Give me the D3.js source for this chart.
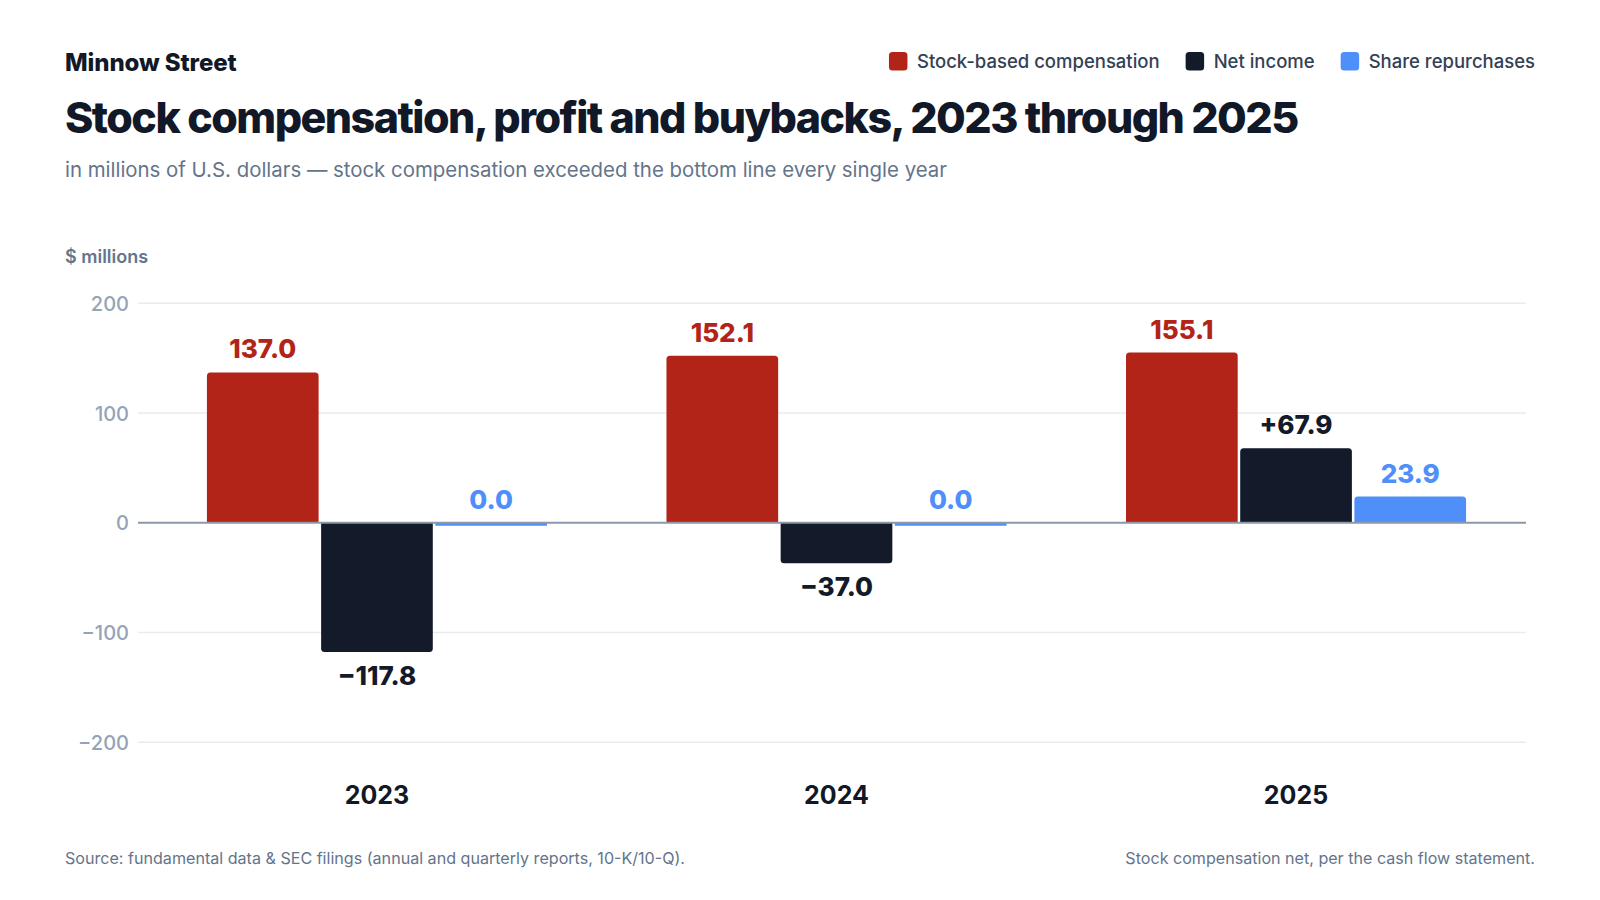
<!DOCTYPE html>
<html>
<head>
<meta charset="utf-8">
<script src="https://cdn.jsdelivr.net/npm/d3@7/dist/d3.min.js"></script>
<style>
  html, body { margin: 0; padding: 0; background: #ffffff; }
  svg { display: block; font-family: Inter, "Noto Sans", sans-serif; }
</style>
</head>
<body>
<svg id="chart" width="1600" height="900"></svg>
<script>
const years = ["2023", "2024", "2025"];
const seriesNames = ["Stock-based compensation", "Net income", "Share repurchases"];
const seriesColors = ["#b22318", "#131a2a", "#4f8ffa"];
const labelColors = ["#b22318", "#131a2a", "#4f8ffa"];
const stockComp = [137.0, 152.1, 155.1];
const netIncome = [-117.8, -37.0, 67.9];
const repurchases = [0.0, 0.0, 23.9];
const yTicks = [-200, -100, 0, 100, 200];

const seriesValues = [stockComp, netIncome, repurchases];
const data = years.map((yr, i) => ({
  year: yr,
  values: seriesNames.map((s, j) => ({ key: s, idx: j, value: seriesValues[j][i] }))
}));

const svg = d3.select("#chart");
const left = 138, right = 1535, gridRight = 1526;

const x0 = d3.scaleBand().domain(years).range([left, right]).paddingInner(0.26).paddingOuter(0.15);
const x1 = d3.scaleBand().domain(seriesNames).range([0, x0.bandwidth()]).paddingInner(0.022).paddingOuter(0);
const y = d3.scaleLinear().domain([-200, 200]).range([742.2, 303.3]);

// Header
svg.append("text").attr("x", 65).attr("y", 71).text("Minnow Street")
  .attr("font-size", 24).attr("font-weight", 800).attr("fill", "#111827").attr("letter-spacing", -0.1);
svg.append("text").attr("x", 65).attr("y", 133).text("Stock compensation, profit and buybacks, 2023 through 2025")
  .attr("font-size", 43).attr("font-weight", 800).attr("fill", "#111827").attr("letter-spacing", -1.55);
svg.append("text").attr("x", 65).attr("y", 176.5).text("in millions of U.S. dollars \u2014 stock compensation exceeded the bottom line every single year")
  .attr("font-size", 20.4).attr("font-weight", 400).attr("fill", "#64748b");

// Legend (right aligned)
const legend = svg.append("g");
let lx = right;
const items = seriesNames.map((s, i) => ({ s, i }));
const legendGroups = items.map(d => {
  const g = legend.append("g");
  g.append("rect").attr("x", 0).attr("y", 52).attr("width", 18.5).attr("height", 18.5).attr("rx", 3.5).attr("fill", seriesColors[d.i]);
  const t = g.append("text").attr("x", 28).attr("y", 67.5).text(d.s)
    .attr("font-size", 18.5).attr("font-weight", 500).attr("fill", "#334155");
  return { g, w: 28 + t.node().getComputedTextLength() };
});
for (let k = legendGroups.length - 1; k >= 0; k--) {
  lx -= legendGroups[k].w;
  legendGroups[k].g.attr("transform", `translate(${lx},0)`);
  lx -= 26;
}

// Y axis label
svg.append("text").attr("x", 65).attr("y", 263).text("$ millions")
  .attr("font-size", 18).attr("font-weight", 600).attr("fill", "#64748b");

// Gridlines
const grid = svg.append("g");
grid.selectAll("line").data(yTicks.filter(t => t !== 0)).join("line")
  .attr("x1", left).attr("x2", gridRight)
  .attr("y1", d => y(d)).attr("y2", d => y(d))
  .attr("stroke", "#e8ebef").attr("stroke-width", 1.5);

// Y axis tick labels via d3 axis
const yAxis = d3.axisLeft(y).tickValues(yTicks).tickSize(0).tickPadding(0)
  .tickFormat(d => d < 0 ? "\u2212" + Math.abs(d) : String(d));
const ya = svg.append("g").attr("transform", `translate(129,0)`).call(yAxis);
ya.select(".domain").remove();
ya.selectAll("text").attr("font-family", "Inter, sans-serif").attr("font-size", 20)
  .attr("fill", "#94a3b8").attr("font-weight", 500).attr("dy", "0.35em");

// Rounded bar path
function barPath(xp, w, v) {
  const y0 = y(0);
  let h = Math.abs(y(v) - y0);
  const r = Math.min(3.5, h);
  if (v > 0) {
    const top = y(v);
    return `M${xp},${y0}V${top + r}Q${xp},${top} ${xp + r},${top}H${xp + w - r}Q${xp + w},${top} ${xp + w},${top + r}V${y0}Z`;
  } else if (v < 0) {
    const bot = y(v);
    return `M${xp},${y0}V${bot - r}Q${xp},${bot} ${xp + r},${bot}H${xp + w - r}Q${xp + w},${bot} ${xp + w},${bot - r}V${y0}Z`;
  } else {
    return `M${xp},${y0}H${xp + w}V${y0 + 3}H${xp}Z`;
  }
}

const groups = svg.append("g").selectAll("g").data(data).join("g")
  .attr("transform", d => `translate(${x0(d.year)},0)`);

groups.selectAll("path").data(d => d.values).join("path")
  .attr("d", d => barPath(x1(d.key), x1.bandwidth(), d.value))
  .attr("fill", d => seriesColors[d.idx]);

// Zero line
svg.append("line").attr("x1", left).attr("x2", gridRight).attr("y1", y(0)).attr("y2", y(0))
  .attr("stroke", "#8e97a8").attr("stroke-width", 2);

// Value labels
function fmtVal(d) {
  if (d.idx === 1) {
    if (d.value < 0) return "\u2212" + Math.abs(d.value).toFixed(1);
    return "+" + d.value.toFixed(1);
  }
  return d.value.toFixed(1);
}
groups.selectAll("text.val").data(d => d.values).join("text").attr("class", "val")
  .attr("x", d => x1(d.key) + x1.bandwidth() / 2)
  .attr("y", d => d.value >= 0 ? y(d.value) - 14 : y(d.value) + 32.6)
  .attr("text-anchor", "middle")
  .attr("font-size", 26).attr("font-weight", 800)
  .attr("fill", d => labelColors[d.idx])
  .text(fmtVal);

// X axis labels
const xAxis = d3.axisBottom(x0).tickSize(0).tickPadding(0);
const xa = svg.append("g").attr("transform", `translate(0,804.3)`).call(xAxis);
xa.select(".domain").remove();
xa.selectAll("text").attr("font-family", "Inter, sans-serif").attr("font-size", 25)
  .attr("font-weight", 700).attr("fill", "#111827").attr("dy", 0);

// Footer
svg.append("text").attr("x", 65).attr("y", 863.5)
  .text("Source: fundamental data & SEC filings (annual and quarterly reports, 10-K/10-Q).")
  .attr("font-size", 16.1).attr("fill", "#64748b");
svg.append("text").attr("x", right).attr("y", 863.5).attr("text-anchor", "end")
  .text("Stock compensation net, per the cash flow statement.")
  .attr("font-size", 16.1).attr("fill", "#64748b");
</script>
</body>
</html>
